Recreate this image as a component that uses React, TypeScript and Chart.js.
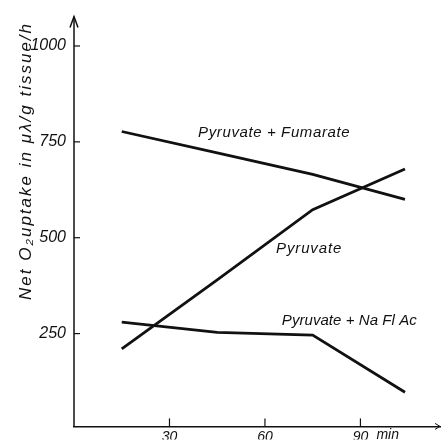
import React, { useEffect, useRef } from "react";
import { Chart, registerables } from "chart.js";

Chart.register(...registerables);

// ---- data ----
const timesMin = [15, 45, 75, 104];
const pyruvateFumarate = [777, 721, 665, 600];
const pyruvate = [210, 390, 573, 679];
const pyruvateNaFlAc = [280, 253, 246, 97];

const xTickValues = [30, 60, 90];
const xTickLabels = ["30", "60", "90"];
const xUnit = "min";
const yTickValues = [250, 500, 750, 1000];
const yTickLabels = ["250", "500", "750", "1000"];

const seriesNames = ["Pyruvate + Fumarate", "Pyruvate", "Pyruvate + Na Fl Ac"];
// label anchor (left edge x, vertical centre y) in data units, and the width of the lettering
const labelX = [39, 63.5, 65.3];
const labelY = [773, 472, 283.5];
const labelWidths = [152, 66, 135];

const yTitle = "Net O\u2082uptake in \u03bc\u03bb/g tissue/h";

const INK = "#111";
const FONT_FAMILY = "'Liberation Sans', Arial, sans-serif";

function drawFitted(ctx: CanvasRenderingContext2D, text: string, x: number, y: number, width: number) {
  (ctx as any).letterSpacing = "0px";
  const w = ctx.measureText(text).width;
  const ls = (width - w) / text.length;
  (ctx as any).letterSpacing = ls.toFixed(2) + "px";
  ctx.fillText(text, x, y);
  (ctx as any).letterSpacing = "0px";
}

const decorPlugin = {
  id: "decor",
  afterDraw(chart: any) {
    const ctx: CanvasRenderingContext2D = chart.ctx;
    const xs = chart.scales.x;
    const ys = chart.scales.y;
    const area = chart.chartArea;
    ctx.save();
    ctx.strokeStyle = INK;
    ctx.fillStyle = INK;
    ctx.lineWidth = 1.5;

    // y axis arrow
    const ax = area.left;
    ctx.beginPath();
    ctx.moveTo(ax, area.bottom);
    ctx.lineTo(ax, area.top - 1);
    ctx.stroke();
    ctx.beginPath();
    ctx.moveTo(ax - 4, area.top + 10);
    ctx.lineTo(ax, area.top - 1);
    ctx.lineTo(ax + 4, area.top + 10);
    ctx.stroke();

    // x axis arrow (faint)
    ctx.lineWidth = 1;
    ctx.beginPath();
    ctx.moveTo(area.right - 5, area.bottom - 3);
    ctx.lineTo(area.right, area.bottom);
    ctx.lineTo(area.right - 5, area.bottom + 3);
    ctx.stroke();

    // inward tick marks
    ctx.lineWidth = 1.2;
    yTickValues.forEach((v) => {
      const py = ys.getPixelForValue(v);
      ctx.beginPath();
      ctx.moveTo(ax, py);
      ctx.lineTo(ax + 6, py);
      ctx.stroke();
    });
    xTickValues.forEach((v) => {
      const px = xs.getPixelForValue(v);
      ctx.beginPath();
      ctx.moveTo(px, area.bottom);
      ctx.lineTo(px, area.bottom - 8);
      ctx.stroke();
    });

    // unit after the last x tick label
    ctx.font = "italic 14px " + FONT_FAMILY;
    ctx.textBaseline = "top";
    ctx.textAlign = "left";
    const lastX = xs.getPixelForValue(xTickValues[xTickValues.length - 1]);
    ctx.fillText(xUnit, lastX + 16, area.bottom + 2);

    // series labels
    ctx.font = "italic 15px " + FONT_FAMILY;
    ctx.textBaseline = "middle";
    ctx.textAlign = "left";
    seriesNames.forEach((name, i) => {
      drawFitted(ctx, name, xs.getPixelForValue(labelX[i]), ys.getPixelForValue(labelY[i]), labelWidths[i]);
    });

    // y title
    ctx.save();
    ctx.translate(26, 161);
    ctx.rotate(-Math.PI / 2);
    ctx.font = "italic 17px " + FONT_FAMILY;
    ctx.textAlign = "left";
    ctx.textBaseline = "middle";
    drawFitted(ctx, yTitle, -139, 0, 278);
    ctx.restore();

    ctx.restore();
  },
};

export default function App() {
  const ref = useRef<HTMLCanvasElement | null>(null);

  useEffect(() => {
    if (!ref.current) return;
    const mk = (label: string, data: number[]) => ({
      label,
      data: timesMin.map((t, i) => ({ x: t, y: data[i] })),
      borderColor: INK,
      borderWidth: 2.8,
      pointRadius: 0,
      tension: 0,
      fill: false,
    });
    const chart = new Chart(ref.current, {
      type: "line",
      data: {
        datasets: [
          mk(seriesNames[0], pyruvateFumarate),
          mk(seriesNames[1], pyruvate),
          mk(seriesNames[2], pyruvateNaFlAc),
        ],
      },
      options: {
        animation: false,
        responsive: false,
        devicePixelRatio: 1,
        layout: { padding: { top: 13, right: 5, left: 0, bottom: 0 } },
        plugins: { legend: { display: false }, tooltip: { enabled: false }, title: { display: false } },
        scales: {
          x: {
            type: "linear",
            min: 0,
            max: 115,
            grid: { display: false, drawTicks: false },
            border: { display: true, color: INK, width: 1.5 },
            afterBuildTicks: (scale: any) => {
              scale.ticks = xTickValues.map((v) => ({ value: v }));
            },
            afterFit: (scale: any) => {
              scale.height = 13;
            },
            ticks: {
              color: INK,
              padding: 2,
              maxRotation: 0,
              autoSkip: false,
              font: { family: FONT_FAMILY, size: 14, style: "italic" },
              callback: (v: any) => {
                const i = xTickValues.indexOf(Number(v));
                return i >= 0 ? xTickLabels[i] : "";
              },
            },
          },
          y: {
            type: "linear",
            min: 8,
            max: 1074,
            grid: { display: false, drawTicks: false },
            border: { display: false },
            afterBuildTicks: (scale: any) => {
              scale.ticks = yTickValues.map((v) => ({ value: v }));
            },
            afterFit: (scale: any) => {
              scale.width = 74;
            },
            ticks: {
              color: INK,
              padding: 8,
              autoSkip: false,
              font: { family: FONT_FAMILY, size: 16, style: "italic" },
              callback: (v: any) => {
                const i = yTickValues.indexOf(Number(v));
                return i >= 0 ? yTickLabels[i] : "";
              },
            },
          },
        },
      },
      plugins: [decorPlugin],
    });
    return () => chart.destroy();
  }, []);

  return (
    <div style={{ position: "fixed", left: 0, top: 0, width: 445, height: 444, background: "#fff" }}>
      <canvas ref={ref} width={445} height={444} style={{ width: 445, height: 444, display: "block" }} />
    </div>
  );
}
